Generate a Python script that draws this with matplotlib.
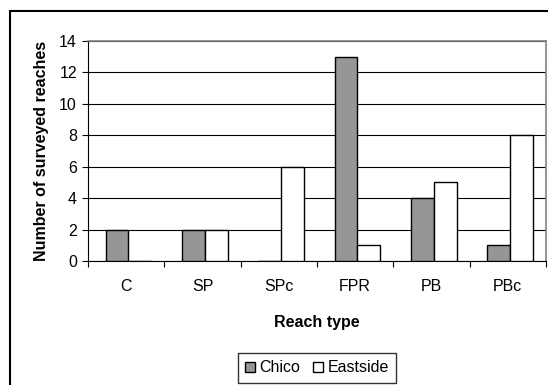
import matplotlib.pyplot as plt
from matplotlib.patches import Rectangle
import numpy as np

reach_types = ["C", "SP", "SPc", "FPR", "PB", "PBc"]
chico = [2, 2, 0, 13, 4, 1]
eastside = [0, 2, 6, 1, 5, 8]

plt.rcParams['font.family'] = ['Liberation Sans', 'DejaVu Sans']
plt.rcParams['font.size'] = 11.5

fig = plt.figure(figsize=(5.48, 3.85), dpi=100)

# outer chart frame (only left and top edges show)
fig.patches.append(Rectangle((9.5 / 548, -0.1), 1.2, 1.1 - 11.5 / 385,
                             transform=fig.transFigure, fill=False,
                             edgecolor='black', linewidth=1.5))

ax = fig.add_axes([88 / 548, 124 / 385, 458 / 548, 220 / 385])

x = np.arange(len(reach_types))
w = 0.3
ax.bar(x - w / 2 + 0.03, chico, w, color='#969696', edgecolor='black', linewidth=1, zorder=3)
ax.bar(x + w / 2 + 0.03, eastside, w, color='white', edgecolor='black', linewidth=1, zorder=3)

ax.set_xlim(-0.5, len(reach_types) - 0.5)
ax.set_ylim(0, 14)
ax.set_yticks(range(0, 15, 2))
ax.yaxis.grid(True, color='black', linewidth=0.8, zorder=0)

# category labels between boundary ticks
ax.set_xticks(np.arange(-0.5, len(reach_types)), minor=False)
ax.set_xticklabels([])
ax.set_xticks(x, minor=True)
ax.set_xticklabels(reach_types, minor=True)
ax.tick_params(axis='x', which='minor', length=0, pad=13)
ax.tick_params(axis='x', which='major', length=4, color='black')
ax.tick_params(axis='y', length=4, color='black', pad=4)

for side in ('top', 'right'):
    ax.spines[side].set_color('#808080')
    ax.spines[side].set_linewidth(1.2)
ax.spines['left'].set_color('black')
ax.spines['bottom'].set_color('black')

ax.set_ylabel("Number of surveyed reaches", fontweight='bold', labelpad=7)
ax.set_xlabel("Reach type", fontweight='bold', labelpad=15)

leg = fig.legend(["Chico", "Eastside"], loc='center', bbox_to_anchor=(317 / 548, 1 - 368 / 385),
                 ncol=2, frameon=True, fancybox=False, edgecolor='black',
                 handlelength=0.6, handleheight=0.6, handletextpad=0.3, columnspacing=0.8,
                 borderpad=0.45)
leg.get_frame().set_linewidth(1)

fig.savefig("out.png", dpi=100)
